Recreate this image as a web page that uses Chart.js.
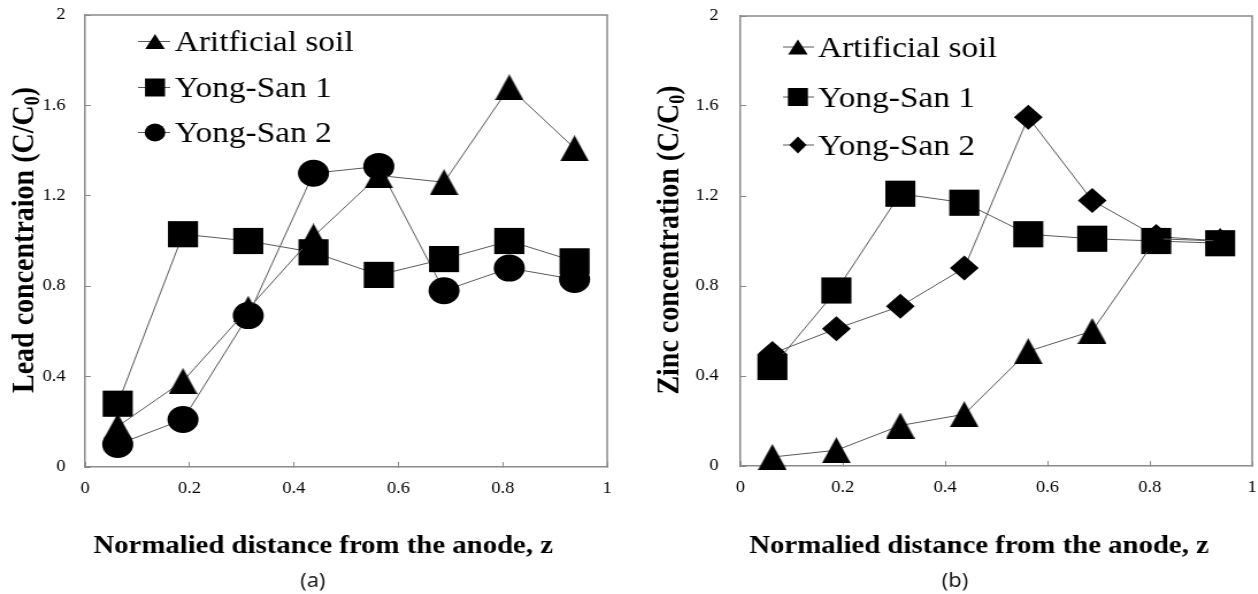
<!DOCTYPE html>
<html>
<head>
<meta charset="utf-8">
<script src="https://cdn.jsdelivr.net/npm/chart.js@4.4.1/dist/chart.umd.min.js"></script>
<style>
  html, body { margin: 0; padding: 0; background: #fff; overflow: hidden; }
  body { width: 1258px; height: 594px; position: relative; }
  /* the source figure is stretched horizontally, so each panel is too */
  .panel { position: absolute; top: 0; transform: scaleX(1.15); transform-origin: 0 0; }
  .panel canvas { display: block; }
</style>
</head>
<body>
<div class="panel" style="left:0"><canvas id="chartA" width="544" height="594"></canvas></div>
<div class="panel" style="left:630px"><canvas id="chartB" width="546" height="594"></canvas></div>
<script>
// normalised distance of each sampling section
const zPos = [0.0625, 0.1875, 0.3125, 0.4375, 0.5625, 0.6875, 0.8125, 0.9375];

// (a) lead, C/C0
const leadArtificial = [0.18, 0.38, 0.70, 1.02, 1.29, 1.26, 1.68, 1.41];
const leadYongSan1   = [0.28, 1.03, 1.00, 0.95, 0.85, 0.92, 1.00, 0.91];
const leadYongSan2   = [0.10, 0.21, 0.67, 1.30, 1.33, 0.78, 0.88, 0.83];

// (b) zinc, C/C0
const zincArtificial = [0.04, 0.07, 0.18, 0.23, 0.51, 0.60, 1.01, 1.00];
const zincYongSan1   = [0.44, 0.78, 1.21, 1.17, 1.03, 1.01, 1.00, 0.99];
const zincYongSan2   = [0.50, 0.61, 0.71, 0.88, 1.55, 1.18, 1.02, 1.00];

const xTicks = [0, 0.2, 0.4, 0.6, 0.8, 1];
const xTickLabels = ['0', '0.2', '0.4', '0.6', '0.8', '1'];
const yTicks = [0, 0.4, 0.8, 1.2, 1.6, 2];
const yTickLabels = ['0', '0.4', '0.8', '1.2', '1.6', '2'];

const legendA = ['Aritficial soil', 'Yong-San 1', 'Yong-San 2'];
const legendB = ['Artificial soil', 'Yong-San 1', 'Yong-San 2'];

const SERIF = '"Liberation Serif", "Times New Roman", serif';
const LINE = '#595959';
const AXIS = '#8a8a8a';

function triangleMark(w, h) {
  const c = document.createElement('canvas');
  c.width = w; c.height = h;
  const g = c.getContext('2d');
  g.fillStyle = '#000';
  g.beginPath();
  g.moveTo(w / 2, 0); g.lineTo(w, h); g.lineTo(0, h);
  g.closePath(); g.fill();
  return c;
}
const tri = triangleMark(25, 26);

function series(label, vals, style, radius) {
  return {
    label: label,
    data: zPos.map((z, i) => ({ x: z, y: vals[i] })),
    borderColor: LINE,
    borderWidth: 1,
    pointStyle: style,
    pointRadius: radius,
    pointHoverRadius: radius,
    pointBackgroundColor: '#000',
    pointBorderColor: '#000',
    pointBorderWidth: 0,
    tension: 0,
    fill: false,
    clip: false
  };
}

function drawMark(ctx, kind, x, y) {
  ctx.fillStyle = '#000';
  ctx.beginPath();
  if (kind === 'tri') {
    ctx.moveTo(x, y - 7.5); ctx.lineTo(x + 8.5, y + 7.5); ctx.lineTo(x - 8.5, y + 7.5); ctx.closePath();
  } else if (kind === 'sq') {
    ctx.rect(x - 8.7, y - 9, 17.4, 18);
  } else if (kind === 'circ') {
    ctx.arc(x, y, 9, 0, Math.PI * 2);
  } else if (kind === 'dia') {
    ctx.moveTo(x, y - 8.5); ctx.lineTo(x + 7.5, y); ctx.lineTo(x, y + 8.5); ctx.lineTo(x - 7.5, y); ctx.closePath();
  }
  ctx.fill();
}

// box round the plot area (top and right sides)
const frame = {
  id: 'frame',
  beforeDatasetsDraw(chart) {
    const { ctx, chartArea: a } = chart;
    ctx.save();
    ctx.strokeStyle = AXIS;
    ctx.lineWidth = 1.5;
    ctx.beginPath();
    ctx.moveTo(a.left, a.top); ctx.lineTo(a.right, a.top); ctx.lineTo(a.right, a.bottom);
    ctx.stroke();
    ctx.restore();
  }
};

// legend drawn inside the plot, Excel style
const inlineLegend = {
  id: 'inlineLegend',
  afterDraw(chart, args, L) {
    const ctx = chart.ctx;
    ctx.save();
    L.rows.forEach((yy, i) => {
      ctx.strokeStyle = LINE;
      ctx.lineWidth = 1;
      ctx.beginPath(); ctx.moveTo(L.x1, yy); ctx.lineTo(L.x2, yy); ctx.stroke();
      drawMark(ctx, L.marks[i], L.mx, yy);
      ctx.font = L.font;
      ctx.textAlign = 'left';
      ctx.textBaseline = 'alphabetic';
      ctx.fillText(L.labels[i], L.tx, yy + 9.5);
    });
    ctx.restore();
  }
};

// axis titles (with a real subscript) and panel letter
const captions = {
  id: 'captions',
  afterDraw(chart, args, c) {
    const ctx = chart.ctx;
    ctx.save();
    ctx.fillStyle = '#000';
    ctx.textBaseline = 'alphabetic';
    ctx.textAlign = 'center';
    ctx.font = 'bold 25px ' + SERIF;
    ctx.fillText(c.xTitle, c.xTitleX, 553);
    ctx.font = '19px "Noto Sans", sans-serif';
    ctx.fillStyle = '#1a1a1a';
    ctx.fillText(c.panel, c.panelX, 587);

    ctx.fillStyle = '#000';
    ctx.translate(c.yTitleX + 9.3, 240);
    ctx.rotate(-Math.PI / 2);
    const big = 'bold 28px ' + SERIF, small = 'bold 18px ' + SERIF;
    ctx.font = big;
    const w1 = ctx.measureText(c.yTitle).width;
    const w2 = ctx.measureText(')').width;
    ctx.font = small;
    const w0 = ctx.measureText('0').width;
    let x = -(w1 + w0 + w2) / 2;
    ctx.textAlign = 'left';
    ctx.font = big; ctx.fillText(c.yTitle, x, 0); x += w1;
    ctx.font = small; ctx.fillText('0', x, 5); x += w0;
    ctx.font = big; ctx.fillText(')', x, 0);
    ctx.restore();
  }
};

function makeChart(id, opt) {
  const tickFont = { family: SERIF, size: 16 };
  return new Chart(document.getElementById(id), {
    type: 'line',
    data: { datasets: opt.datasets },
    options: {
      responsive: false,
      devicePixelRatio: 1,
      animation: false,
      events: [],
      layout: { autoPadding: false, padding: { top: opt.top, right: opt.right, left: 0, bottom: 0 } },
      scales: {
        x: {
          type: 'linear', min: 0, max: 1,
          afterFit: s => {
            s.height = 594 - opt.bottom;
            s.paddingLeft = 0; s.paddingRight = 0;
          },
          afterBuildTicks: s => { s.ticks = xTicks.map(v => ({ value: v })); },
          ticks: { callback: (v, i) => xTickLabels[i], font: tickFont, color: '#000', padding: 17, maxRotation: 0 },
          grid: { drawOnChartArea: false, drawTicks: true, tickLength: -5, color: AXIS },
          border: { display: true, color: AXIS, width: 1.5 }
        },
        y: {
          type: 'linear', min: 0, max: 2,
          afterFit: s => {
            s.width = opt.yWidth;
            s.paddingTop = 0; s.paddingBottom = 0;
          },
          afterBuildTicks: s => { s.ticks = yTicks.map(v => ({ value: v })); },
          ticks: { callback: (v, i) => yTickLabels[i], font: tickFont, color: '#000', padding: opt.yPad },
          grid: { drawOnChartArea: false, drawTicks: true, tickLength: -5, color: AXIS },
          border: { display: true, color: AXIS, width: 1.5 }
        }
      },
      plugins: {
        legend: { display: false },
        tooltip: { enabled: false },
        inlineLegend: opt.legend,
        captions: opt.captions
      }
    },
    plugins: [frame, inlineLegend, captions]
  });
}

makeChart('chartA', {
  top: 15, right: 16, bottom: 467, yWidth: 74, yPad: 22,
  datasets: [
    series(legendA[0], leadArtificial, tri, 13),
    series(legendA[1], leadYongSan1, 'rect', 18.5),
    series(legendA[2], leadYongSan2, 'circle', 13.5)
  ],
  legend: { rows: [41.5, 87.5, 132.5], x1: 120, x2: 148, mx: 134.8, tx: 152,
            font: '29px ' + SERIF, labels: legendA, marks: ['tri', 'sq', 'circ'] },
  captions: { xTitle: 'Normalied distance from the anode, z', xTitleX: 281,
              panel: '(a)', panelX: 272, yTitle: 'Lead concentraion (C/C', yTitleX: 20 }
});

makeChart('chartB', {
  top: 16, right: 5, bottom: 466, yWidth: 96, yPad: 24,
  datasets: [
    series(legendB[0], zincArtificial, tri, 13),
    series(legendB[1], zincYongSan1, 'rect', 18.5),
    series(legendB[2], zincYongSan2, 'rectRot', 12.5)
  ],
  legend: { rows: [47, 97, 145], x1: 133, x2: 160, mx: 146, tx: 163.5,
            font: '29px ' + SERIF, labels: legendB, marks: ['tri', 'sq', 'dia'] },
  captions: { xTitle: 'Normalied distance from the anode, z', xTitleX: 303.5,
              panel: '(b)', panelX: 282.6, yTitle: 'Zinc concentration (C/C', yTitleX: 33 }
});
</script>
</body>
</html>
